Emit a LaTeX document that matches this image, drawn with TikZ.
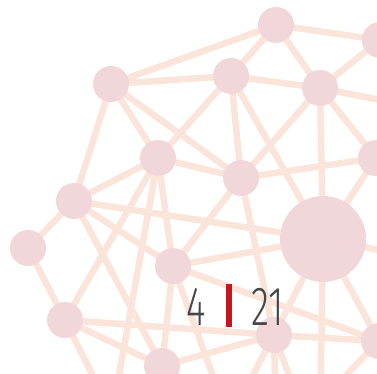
\documentclass[tikz,border=0pt]{standalone}
\usepackage{fontspec}
\newfontfamily\numfont{Fira Sans Light}
\definecolor{nodepink}{HTML}{F2D7DA}
\definecolor{linkpeach}{HTML}{FBE5DA}
\definecolor{numgray}{HTML}{474747}
\definecolor{barred}{HTML}{C4161E}
\begin{document}
\begin{tikzpicture}[x=1pt,y=-1pt,
  dot/.style={circle,fill=nodepink,minimum size=36pt,inner sep=0pt},
  bigdot/.style={circle,fill=nodepink,minimum size=86pt,inner sep=0pt},
  link/.style={draw=linkpeach,line width=6.5pt},
  num/.style={inner sep=0pt,anchor=base,text=numgray,font=\numfont\fontsize{55}{55}\selectfont}]
\useasboundingbox (0,0) rectangle (377,374);
% network nodes (coordinates first, discs drawn on top of the links)
\coordinate (T) at (276,25);
\coordinate (TR) at (380,40);
\coordinate (A) at (111,84);
\coordinate (B) at (231,76);
\coordinate (E) at (320,88);
\coordinate (N) at (158,158);
\coordinate (F) at (241,178);
\coordinate (R1) at (376,158);
\coordinate (C) at (74,201);
\coordinate (L) at (28,248);
\coordinate (G) at (323,239);
\coordinate (D) at (173,266);
\coordinate (M) at (65,320);
\coordinate (P) at (274,335);
\coordinate (R2) at (379,341);
\coordinate (Q) at (162,366);
% nodes lying beyond the frame
\coordinate (O1) at (112,414);
\coordinate (O2) at (229,420);
\coordinate (O3) at (305,418);
\coordinate (O4) at (276,430);
\coordinate (O5) at (320,430);
\coordinate (O6) at (410,106);
\coordinate (O7) at (420,258);
% links
\foreach \u/\v in {A/T,A/B,A/C,A/N,A/F,T/B,T/E,T/TR,B/E,B/F,B/N,B/G,
  E/TR,E/F,E/G,E/R1,E/O6,N/F,N/C,N/M,N/D,N/O1,F/R1,F/P,F/D,
  C/L,C/G,C/D,C/Q,L/M,M/P,M/Q,M/O1,D/G,D/R2,D/Q,D/O2,
  G/R1,G/P,G/R2,G/O5,G/O7,P/R2,P/Q,P/O2,P/O4,P/O3,R2/O3}
  \draw[link] (\u) -- (\v);
% discs
\foreach \n in {T,TR,A,B,E,N,F,R1,C,L,D,M,P,R2,Q}
  \node[dot] (d\n) at (\n) {};
\node[bigdot] (dG) at (G) {};
% page number
\node[num] (pnum) at (196,325) {\scalebox{0.68}[1]{4}};
\fill[barred] (226,284) rectangle (232,327);
\node[num] (ptotal) at (268,325) {\scalebox{0.68}[1]{21}};
\end{tikzpicture}
\end{document}
